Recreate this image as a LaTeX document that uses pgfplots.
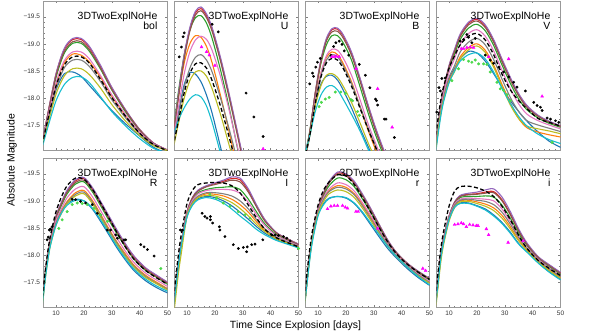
\documentclass[border=0pt]{standalone}
\usepackage{fontspec}
\setmainfont{Liberation Sans}
\usepackage{pgfplots}
\usepackage{pgfplotstable}
\usepgfplotslibrary{groupplots}
\pgfplotsset{compat=1.18}

\definecolor{tblue}{HTML}{1F77B4}
\definecolor{torange}{HTML}{FF7F0E}
\definecolor{tgreen}{HTML}{2CA02C}
\definecolor{tred}{HTML}{D62728}
\definecolor{tpurple}{HTML}{9467BD}
\definecolor{tbrown}{HTML}{8C564B}
\definecolor{tpink}{HTML}{E377C2}
\definecolor{tgray}{HTML}{7F7F7F}
\definecolor{tolive}{HTML}{BCBD22}
\definecolor{tcyan}{HTML}{17BECF}
\definecolor{obsgreen}{HTML}{4CD84C}
\definecolor{obsmag}{HTML}{FF00FF}

% model light curves, one table per band: columns are the models
\pgfplotstableread{
t  pu     re     br     gr     pk     og     da     gy     ol     bl     cy
5  -17.15 -17.15 -17.15 -17.14 -17.13 -17.13 -17.13 -17.12 -17.11 -17.10 -17.08
7  -17.70 -17.69 -17.68 -17.67 -17.62 -17.60 -17.59 -17.57 -17.51 -17.55 -17.45
10 -18.45 -18.44 -18.41 -18.38 -18.28 -18.25 -18.22 -18.17 -18.07 -18.15 -17.95
13 -18.92 -18.90 -18.86 -18.83 -18.69 -18.65 -18.61 -18.56 -18.41 -18.45 -18.25
16 -19.10 -19.08 -19.04 -19.01 -18.85 -18.81 -18.76 -18.70 -18.54 -18.48 -18.38
19 -19.10 -19.08 -19.04 -19.01 -18.85 -18.79 -18.76 -18.70 -18.54 -18.40 -18.39
22 -18.95 -18.93 -18.89 -18.86 -18.72 -18.66 -18.64 -18.58 -18.43 -18.23 -18.28
26 -18.60 -18.58 -18.55 -18.53 -18.41 -18.38 -18.34 -18.30 -18.18 -18.00 -18.02
30 -18.20 -18.19 -18.16 -18.15 -18.06 -18.03 -18.01 -17.97 -17.88 -17.77 -17.75
35 -17.78 -17.77 -17.76 -17.74 -17.69 -17.67 -17.66 -17.63 -17.57 -17.52 -17.48
40 -17.42 -17.42 -17.41 -17.40 -17.37 -17.36 -17.35 -17.34 -17.31 -17.30 -17.25
45 -17.17 -17.17 -17.16 -17.16 -17.15 -17.15 -17.14 -17.14 -17.12 -17.09 -17.07
50 -17.04 -17.04 -17.04 -17.04 -17.04 -17.03 -17.03 -17.03 -17.03 -16.98 -16.98
}\tabbol

\pgfplotstableread{
t  pu     re     br     gr     pk     og     da     gy     ol     bl     cy
5  -17.30 -17.28 -17.27 -17.35 -17.20 -17.30 -17.10 -17.15 -17.05 -17.20 -17.30
7  -18.10 -18.07 -18.04 -18.15 -17.85 -18.05 -17.60 -17.70 -17.55 -17.75 -17.60
9  -18.80 -18.77 -18.73 -18.80 -18.45 -18.65 -18.10 -18.20 -18.00 -18.25 -17.82
11 -19.30 -19.27 -19.23 -19.25 -18.85 -19.00 -18.45 -18.55 -18.32 -18.47 -17.98
13 -19.60 -19.57 -19.53 -19.48 -19.07 -19.15 -18.63 -18.75 -18.48 -18.44 -18.06
15 -19.68 -19.65 -19.61 -19.52 -19.14 -19.12 -18.65 -18.80 -18.50 -18.30 -18.02
17 -19.55 -19.52 -19.48 -19.38 -19.08 -18.95 -18.55 -18.70 -18.40 -18.05 -17.85
19 -19.30 -19.27 -19.23 -19.10 -18.88 -18.65 -18.32 -18.48 -18.17 -17.72 -17.55
22 -18.75 -18.72 -18.68 -18.52 -18.40 -18.05 -17.85 -18.00 -17.70 -17.10 -16.98
25 -18.10 -18.07 -18.03 -17.85 -17.80 -17.40 -17.30 -17.45 -17.15 -16.50 -16.40
28 -17.40 -17.37 -17.33 -17.10 -17.12 -16.70 -16.70 -16.85 -16.60 -15.90 -15.80
31 -16.70 -16.67 -16.63 -16.40 -16.45 -16.00 -16.10 -16.20 -16.00 -15.30 -15.20
35 -15.90 -15.90 -15.90 -15.60 -15.60 -15.20 -15.30 -15.40 -15.30 -14.50 -14.40
}\tabU

\pgfplotstableread{
t  pu     re     br     gr     pk     og     da     gy     ol     bl     cy
5  -16.80 -16.80 -16.80 -16.82 -16.80 -16.85 -16.85 -16.80 -16.85 -16.90 -16.90
7  -17.35 -17.35 -17.36 -17.38 -17.30 -17.35 -17.30 -17.28 -17.30 -17.35 -17.30
9  -18.10 -18.09 -18.08 -18.08 -17.95 -17.98 -17.90 -17.90 -17.85 -17.88 -17.75
11 -18.70 -18.68 -18.66 -18.63 -18.45 -18.45 -18.38 -18.40 -18.22 -18.25 -18.05
13 -19.10 -19.08 -19.05 -18.98 -18.78 -18.75 -18.65 -18.70 -18.42 -18.40 -18.20
15 -19.28 -19.26 -19.22 -19.15 -18.90 -18.85 -18.73 -18.80 -18.45 -18.42 -18.23
17 -19.29 -19.27 -19.23 -19.15 -18.88 -18.80 -18.70 -18.76 -18.38 -18.33 -18.15
19 -19.17 -19.15 -19.11 -19.02 -18.74 -18.64 -18.55 -18.60 -18.22 -18.15 -17.98
22 -18.85 -18.83 -18.79 -18.70 -18.42 -18.30 -18.22 -18.27 -17.92 -17.82 -17.70
25 -18.38 -18.36 -18.32 -18.22 -17.98 -17.85 -17.82 -17.86 -17.55 -17.45 -17.40
28 -17.87 -17.85 -17.81 -17.72 -17.52 -17.40 -17.42 -17.44 -17.17 -17.10 -17.05
31 -17.40 -17.38 -17.34 -17.27 -17.12 -17.00 -17.05 -17.06 -16.82 -16.75 -16.70
35 -16.85 -16.83 -16.80 -16.75 -16.60 -16.50 -16.55 -16.55 -16.35 -16.30 -16.25
}\tabB

\pgfplotstableread{
t  pu     re     br     gr     pk     og     da     gy     ol     bl     cy
5  -17.00 -17.00 -17.00 -16.99 -16.98 -16.95 -17.20 -16.96 -16.95 -17.00 -16.90
6  -17.45 -17.45 -17.44 -17.43 -17.41 -17.36 -17.60 -17.38 -17.35 -17.40 -17.30
7  -17.85 -17.84 -17.83 -17.82 -17.79 -17.71 -17.95 -17.74 -17.70 -17.75 -17.65
8  -18.15 -18.14 -18.13 -18.11 -18.07 -17.96 -18.20 -18.00 -17.95 -18.00 -17.92
10 -18.60 -18.59 -18.57 -18.53 -18.47 -18.32 -18.55 -18.38 -18.29 -18.35 -18.28
12 -18.90 -18.88 -18.86 -18.81 -18.73 -18.52 -18.78 -18.60 -18.49 -18.55 -18.50
14 -19.18 -19.16 -19.13 -19.08 -18.99 -18.76 -18.98 -18.85 -18.72 -18.72 -18.68
17 -19.40 -19.38 -19.35 -19.29 -19.19 -18.93 -19.14 -19.03 -18.89 -18.86 -18.80
20 -19.47 -19.45 -19.42 -19.36 -19.26 -19.00 -19.19 -19.10 -18.96 -18.83 -18.83
23 -19.35 -19.33 -19.30 -19.24 -19.14 -18.88 -19.07 -18.98 -18.84 -18.68 -18.72
26 -19.08 -19.06 -19.03 -18.97 -18.87 -18.61 -18.80 -18.71 -18.57 -18.45 -18.48
29 -18.72 -18.70 -18.67 -18.61 -18.51 -18.25 -18.44 -18.35 -18.21 -18.20 -18.18
32 -18.38 -18.36 -18.33 -18.27 -18.17 -17.91 -18.15 -18.01 -17.87 -17.95 -17.90
35 -18.08 -18.06 -18.04 -17.98 -17.89 -17.62 -17.95 -17.75 -17.62 -17.75 -17.66
38 -17.86 -17.85 -17.82 -17.78 -17.70 -17.45 -17.80 -17.58 -17.48 -17.57 -17.48
42 -17.68 -17.67 -17.66 -17.63 -17.58 -17.37 -17.62 -17.50 -17.43 -17.37 -17.33
46 -17.57 -17.56 -17.55 -17.53 -17.50 -17.32 -17.55 -17.44 -17.39 -17.20 -17.23
50 -17.49 -17.48 -17.48 -17.46 -17.43 -17.28 -17.48 -17.38 -17.34 -17.09 -17.16
}\tabV

\pgfplotstableread{
t  pu     re     br     gr     pk     og     da     gy     ol     bl     cy
5  -17.05 -17.05 -17.05 -17.05 -17.05 -17.05 -17.10 -17.05 -17.00 -17.05 -17.00
6  -17.60 -17.60 -17.60 -17.59 -17.58 -17.58 -17.65 -17.57 -17.50 -17.58 -17.50
7  -17.98 -17.98 -17.97 -17.96 -17.95 -17.93 -18.05 -17.93 -17.88 -17.95 -17.88
8  -18.30 -18.29 -18.29 -18.28 -18.25 -18.23 -18.36 -18.22 -18.18 -18.25 -18.18
10 -18.72 -18.71 -18.70 -18.68 -18.64 -18.60 -18.80 -18.59 -18.55 -18.62 -18.55
12 -18.98 -18.97 -18.95 -18.92 -18.86 -18.81 -19.08 -18.79 -18.77 -18.82 -18.78
14 -19.20 -19.18 -19.16 -19.13 -19.06 -18.99 -19.28 -18.97 -18.95 -18.95 -18.92
17 -19.39 -19.37 -19.34 -19.31 -19.22 -19.15 -19.42 -19.12 -19.09 -19.03 -19.01
20 -19.43 -19.41 -19.38 -19.35 -19.26 -19.19 -19.40 -19.16 -19.13 -19.00 -19.00
23 -19.25 -19.23 -19.20 -19.17 -19.08 -19.01 -19.22 -18.98 -18.95 -18.85 -18.87
26 -18.99 -18.97 -18.94 -18.91 -18.82 -18.75 -18.96 -18.72 -18.69 -18.62 -18.65
29 -18.72 -18.70 -18.67 -18.64 -18.55 -18.48 -18.68 -18.45 -18.42 -18.37 -18.40
32 -18.45 -18.43 -18.41 -18.38 -18.30 -18.23 -18.40 -18.21 -18.18 -18.12 -18.15
35 -18.20 -18.18 -18.16 -18.14 -18.06 -18.01 -18.14 -17.98 -17.96 -17.90 -17.93
38 -17.98 -17.97 -17.94 -17.92 -17.86 -17.81 -17.92 -17.79 -17.77 -17.71 -17.74
42 -17.77 -17.76 -17.74 -17.72 -17.67 -17.63 -17.72 -17.61 -17.59 -17.53 -17.56
46 -17.63 -17.62 -17.60 -17.59 -17.54 -17.50 -17.58 -17.48 -17.47 -17.40 -17.43
50 -17.50 -17.49 -17.48 -17.46 -17.42 -17.38 -17.46 -17.37 -17.35 -17.30 -17.33
}\tabR

\pgfplotstableread{
t  pu     re     br     gr     pk     og     da     gy     ol     bl     cy
5  -17.00 -17.00 -17.00 -16.99 -16.98 -16.97 -17.10 -16.97 -16.80 -16.96 -16.95
6  -17.45 -17.45 -17.45 -17.44 -17.43 -17.42 -17.60 -17.42 -17.25 -17.41 -17.40
7  -17.90 -17.90 -17.90 -17.89 -17.88 -17.87 -18.05 -17.87 -17.70 -17.86 -17.85
8  -18.25 -18.25 -18.25 -18.24 -18.23 -18.22 -18.40 -18.22 -18.05 -18.21 -18.20
10 -18.80 -18.80 -18.79 -18.77 -18.76 -18.73 -18.95 -18.74 -18.72 -18.71 -18.70
12 -19.07 -19.06 -19.06 -19.03 -19.01 -18.97 -19.20 -18.98 -18.95 -18.94 -18.92
14 -19.20 -19.19 -19.18 -19.15 -19.13 -19.07 -19.30 -19.09 -19.06 -19.04 -19.02
17 -19.28 -19.27 -19.26 -19.21 -19.19 -19.13 -19.33 -19.15 -19.10 -19.08 -19.06
20 -19.33 -19.32 -19.30 -19.24 -19.21 -19.12 -19.34 -19.15 -19.09 -19.06 -19.03
23 -19.38 -19.36 -19.34 -19.25 -19.21 -19.09 -19.33 -19.13 -19.04 -19.00 -18.96
26 -19.44 -19.41 -19.38 -19.26 -19.20 -19.03 -19.28 -19.09 -18.97 -18.91 -18.85
29 -19.42 -19.39 -19.35 -19.21 -19.14 -18.93 -19.15 -19.00 -18.86 -18.79 -18.72
32 -19.22 -19.19 -19.16 -19.03 -18.97 -18.79 -18.92 -18.85 -18.72 -18.66 -18.60
35 -18.92 -18.90 -18.88 -18.79 -18.74 -18.61 -18.68 -18.65 -18.56 -18.52 -18.47
38 -18.65 -18.64 -18.62 -18.57 -18.54 -18.45 -18.47 -18.48 -18.43 -18.40 -18.37
42 -18.42 -18.41 -18.41 -18.38 -18.36 -18.32 -18.32 -18.33 -18.30 -18.29 -18.27
46 -18.30 -18.30 -18.29 -18.27 -18.26 -18.23 -18.23 -18.24 -18.22 -18.21 -18.20
50 -18.20 -18.20 -18.19 -18.18 -18.17 -18.15 -18.15 -18.16 -18.14 -18.14 -18.13
}\tabI

\pgfplotstableread{
t  pu     re     br     gr     pk     og     da     gy     ol     bl     cy
5  -17.00 -17.00 -17.00 -17.00 -17.00 -17.00 -17.10 -17.00 -16.95 -17.00 -16.98
6  -17.50 -17.50 -17.50 -17.50 -17.50 -17.50 -17.65 -17.50 -17.45 -17.50 -17.45
7  -18.00 -18.00 -18.00 -17.99 -17.98 -17.97 -18.10 -17.97 -17.92 -17.95 -17.90
8  -18.35 -18.35 -18.35 -18.34 -18.33 -18.32 -18.45 -18.32 -18.28 -18.30 -18.25
10 -18.85 -18.85 -18.84 -18.83 -18.81 -18.80 -18.92 -18.79 -18.75 -18.75 -18.72
12 -19.15 -19.14 -19.13 -19.10 -19.06 -19.04 -19.20 -19.03 -18.99 -18.95 -18.93
14 -19.36 -19.34 -19.33 -19.28 -19.22 -19.19 -19.35 -19.17 -19.13 -19.05 -19.04
17 -19.53 -19.51 -19.49 -19.42 -19.33 -19.28 -19.48 -19.25 -19.20 -19.08 -19.08
20 -19.50 -19.48 -19.46 -19.39 -19.30 -19.25 -19.46 -19.22 -19.17 -19.05 -19.06
23 -19.36 -19.34 -19.32 -19.26 -19.18 -19.13 -19.30 -19.11 -19.06 -18.95 -18.96
26 -19.12 -19.10 -19.09 -19.03 -18.96 -18.93 -19.05 -18.90 -18.86 -18.77 -18.79
29 -18.85 -18.84 -18.82 -18.78 -18.72 -18.69 -18.78 -18.66 -18.63 -18.55 -18.58
32 -18.56 -18.55 -18.54 -18.50 -18.46 -18.43 -18.50 -18.42 -18.39 -18.33 -18.37
35 -18.28 -18.27 -18.26 -18.24 -18.21 -18.19 -18.24 -18.18 -18.16 -18.12 -18.16
38 -18.06 -18.05 -18.05 -18.03 -18.01 -18.00 -18.03 -17.99 -17.98 -17.95 -17.98
42 -17.85 -17.85 -17.84 -17.83 -17.81 -17.80 -17.83 -17.79 -17.78 -17.75 -17.78
46 -17.70 -17.69 -17.69 -17.67 -17.65 -17.63 -17.68 -17.63 -17.61 -17.58 -17.60
50 -17.57 -17.56 -17.56 -17.54 -17.51 -17.50 -17.55 -17.49 -17.48 -17.44 -17.45
}\tabrr

\pgfplotstableread{
t  pu     re     br     gr     pk     og     da     gy     ol     bl     cy
5  -17.00 -17.00 -17.00 -17.00 -16.99 -16.99 -17.10 -16.99 -16.90 -16.98 -16.98
6  -17.50 -17.50 -17.49 -17.49 -17.48 -17.47 -17.65 -17.47 -17.38 -17.45 -17.45
7  -18.00 -17.99 -17.99 -17.98 -17.96 -17.94 -18.10 -17.95 -17.85 -17.92 -17.92
8  -18.30 -18.29 -18.29 -18.28 -18.26 -18.24 -18.42 -18.25 -18.18 -18.22 -18.22
10 -18.72 -18.71 -18.71 -18.70 -18.69 -18.67 -18.90 -18.68 -18.62 -18.65 -18.65
12 -18.98 -18.97 -18.97 -18.95 -18.94 -18.91 -19.18 -18.92 -18.88 -18.88 -18.88
14 -19.10 -19.09 -19.08 -19.06 -19.03 -19.00 -19.26 -19.01 -18.98 -18.96 -18.95
17 -19.14 -19.12 -19.11 -19.08 -19.05 -19.01 -19.27 -19.03 -18.99 -18.96 -18.95
20 -19.16 -19.13 -19.12 -19.08 -19.04 -18.98 -19.24 -19.01 -18.95 -18.91 -18.90
23 -19.20 -19.16 -19.14 -19.09 -19.03 -18.94 -19.18 -18.99 -18.90 -18.85 -18.83
26 -19.22 -19.17 -19.15 -19.07 -19.00 -18.87 -19.08 -18.93 -18.82 -18.74 -18.72
29 -19.07 -19.02 -19.00 -18.92 -18.85 -18.73 -18.90 -18.79 -18.68 -18.60 -18.58
32 -18.80 -18.76 -18.74 -18.68 -18.62 -18.52 -18.65 -18.57 -18.48 -18.42 -18.40
35 -18.48 -18.45 -18.44 -18.40 -18.35 -18.28 -18.36 -18.32 -18.26 -18.21 -18.20
38 -18.22 -18.20 -18.19 -18.17 -18.14 -18.10 -18.12 -18.12 -18.08 -18.06 -18.05
42 -17.97 -17.96 -17.95 -17.93 -17.92 -17.89 -17.90 -17.90 -17.87 -17.86 -17.85
46 -17.82 -17.81 -17.80 -17.78 -17.76 -17.72 -17.75 -17.74 -17.71 -17.69 -17.68
50 -17.68 -17.67 -17.66 -17.64 -17.62 -17.58 -17.62 -17.60 -17.57 -17.55 -17.54
}\tabii

\pgfplotsset{
  model/.style={smooth, no markers, line width=1.1pt},
  obsk/.style={only marks, mark=*, mark size=1.2pt, black},
  obsm/.style={only marks, mark=triangle*, mark size=1.7pt, obsmag},
  obsg/.style={only marks, mark=*, mark size=1.3pt, obsgreen},
}

\newcommand{\modelcurves}[1]{%
  \addplot[model, tblue] table[x=t, y=bl] {#1};
  \addplot[model, torange] table[x=t, y=og] {#1};
  \addplot[model, tgreen] table[x=t, y=gr] {#1};
  \addplot[model, tred] table[x=t, y=re] {#1};
  \addplot[model, tpurple] table[x=t, y=pu] {#1};
  \addplot[model, tbrown] table[x=t, y=br] {#1};
  \addplot[model, tpink] table[x=t, y=pk] {#1};
  \addplot[model, tgray] table[x=t, y=gy] {#1};
  \addplot[model, tolive] table[x=t, y=ol] {#1};
  \addplot[model, tcyan] table[x=t, y=cy] {#1};
  \addplot[model, black, line width=1.3pt, dash pattern=on 4pt off 2.5pt] table[x=t, y=da] {#1};
}
\newcommand{\bandlabel}[1]{%
  \node[anchor=north east, align=right, inner sep=0pt,
        font=\fontsize{10.5}{10.5}\selectfont] at (axis description cs:0.92,0.93) {3DTwoExplNoHe\\#1};
}

\begin{document}
\begin{tikzpicture}
\begin{groupplot}[
  group style={group name=G, group size=4 by 2, horizontal sep=7bp, vertical sep=8bp},
  width=124bp, height=149bp, scale only axis,
  xmin=5.5, xmax=50, ymin=-19.79, ymax=-17.04, y dir=reverse,
  xtick={10,20,30,40,50}, minor x tick num=4,
  ytick={-19.5,-19,-18.5,-18,-17.5}, minor y tick num=4,
  xticklabels={}, yticklabels={},
  tick align=inside, major tick length=2.5bp, minor tick length=1.5bp,
  tick style={gray, line width=0.4pt},
  axis line style={gray!80, line width=0.5pt},
  ticklabel style={font=\fontsize{6.5}{7}\selectfont, text=black!80},
]
% bol
\nextgroupplot[yticklabels={−19.5,−19.0,−18.5,−18.0,−17.5}]
\modelcurves{\tabbol}
\bandlabel{bol}

% U
\nextgroupplot
\modelcurves{\tabU}
\addplot[obsk] coordinates {(5.2,-17.81) (7.2,-18.76) (8.0,-18.94) (8.6,-19.13) (9.0,-19.20)
  (19.0,-19.36) (21.2,-19.22) (31.2,-18.09) (34.0,-17.65) (37.3,-17.29)};
\addplot[obsm] coordinates {(15.2,-18.94) (17.0,-18.85) (18.0,-18.79) (20.0,-18.60) (37.3,-17.06)};
\bandlabel{U}

% B
\nextgroupplot
\modelcurves{\tabB}
\addplot[obsk] coordinates {(5.4,-17.61) (5.4,-17.75) (7.0,-18.26) (8.0,-18.46) (8.4,-18.40)
  (9.2,-18.57) (9.8,-18.66) (10.8,-18.73) (14.6,-18.79) (15.6,-18.95) (16.4,-19.02)
  (17.6,-19.05) (18.6,-18.99) (19.4,-18.87) (21.0,-18.79) (24.8,-18.62) (27.0,-18.42)
  (28.6,-18.19) (30.6,-17.98) (31.0,-17.95) (31.4,-17.87) (33.8,-17.61) (34.4,-17.61)
  (37.4,-17.27)};
\addplot[obsm] coordinates {(15.0,-18.76) (15.8,-18.76) (16.6,-18.77) (17.6,-18.76)
  (23.6,-18.54) (31.4,-18.17) (36.6,-17.46)};
\addplot[obsg] coordinates {(10.4,-17.84) (11.2,-17.92) (12.6,-17.98) (14.0,-18.01)
  (16.2,-18.11) (18.2,-18.11) (19.8,-18.08) (21.8,-17.97) (22.4,-17.95) (24.2,-17.75)
  (24.8,-17.68)};
\bandlabel{B}

% V
\nextgroupplot
\modelcurves{\tabV}
\addplot[obsk] coordinates {(5.6,-17.74) (6.4,-18.19) (6.9,-18.13) (7.4,-18.36) (8.6,-18.37)
  (14.0,-19.05) (15.2,-19.08) (16.4,-19.17) (17.0,-19.12) (18.2,-19.02) (19.4,-19.10)
  (23.0,-18.79) (24.8,-18.70) (26.0,-18.64) (27.8,-18.57) (29.6,-18.48) (31.4,-18.39)
  (33.2,-18.29) (34.4,-18.20) (37.4,-18.13) (40.4,-17.92) (41.6,-17.86) (42.8,-17.83)
  (43.4,-17.77) (45.2,-17.63) (46.4,-17.61) (48.2,-17.58) (49.4,-17.55)};
\addplot[obsm] coordinates {(14.4,-18.91) (15.2,-18.91) (16.4,-18.93) (17.6,-18.94)
  (18.8,-18.93) (24.2,-18.76) (31.4,-18.72) (43.4,-18.03)};
\addplot[obsg] coordinates {(11.0,-18.32) (13.4,-18.54) (15.2,-18.71) (17.0,-18.68)
  (18.2,-18.66) (19.4,-18.70) (20.6,-18.63) (22.4,-18.63) (23.6,-18.62) (24.8,-18.48)
  (27.2,-18.29) (28.4,-18.17) (29.6,-18.14) (30.8,-18.06) (32.0,-17.95) (47.0,-17.18)};
\bandlabel{V}

% R
\nextgroupplot[yticklabels={−19.5,−19.0,−18.5,−18.0,−17.5}, xticklabels={10,20,30,40,50}]
\modelcurves{\tabR}
\addplot[obsk] coordinates {(5.2,-17.85) (5.3,-17.78) (6.8,-18.28) (7.2,-18.33) (7.6,-18.46)
  (8.0,-18.48) (8.6,-18.52) (15.8,-19.03) (17.0,-19.02) (18.8,-18.99) (20.6,-18.96)
  (23.0,-18.93) (24.8,-18.77) (26.0,-18.74) (28.4,-18.46) (29.6,-18.46) (31.4,-18.37)
  (32.0,-18.31) (34.4,-18.28) (35.0,-18.28) (40.4,-18.19) (41.6,-18.15) (42.8,-18.10)
  (45.2,-17.98)};
\addplot[obsg] coordinates {(11.0,-18.49) (12.2,-18.65) (14.0,-18.80) (15.8,-18.93)
  (17.6,-18.96) (19.4,-18.95) (21.2,-18.93) (23.6,-18.86) (26.0,-18.74) (28.4,-18.62)
  (47.6,-17.75)};
\bandlabel{R}

% I
\nextgroupplot[xticklabels={10,20,30,40,50}]
\modelcurves{\tabI}
\addplot[obsk] coordinates {(5.2,-17.89) (5.2,-17.83) (7.6,-18.46) (8.4,-18.46)
  (15.4,-18.77) (16.4,-18.71) (17.2,-18.68) (18.4,-18.71) (18.4,-18.65) (19.2,-18.59)
  (21.6,-18.52) (21.8,-18.46) (23.6,-18.34) (26.6,-18.19) (28.4,-18.12) (30.2,-18.14)
  (31.4,-18.06) (31.6,-18.15) (33.2,-18.19) (34.4,-18.20) (37.2,-18.28) (40.4,-18.37)
  (41.6,-18.37) (42.8,-18.36) (44.6,-18.34) (45.8,-18.31) (47.0,-18.26)};
\addplot[obsg] coordinates {(18.2,-19.12) (20.6,-19.05) (23.0,-18.96) (25.4,-18.90)
  (28.4,-18.80) (30.8,-18.74) (32.6,-18.68) (50.0,-18.12)};
\bandlabel{I}

% r
\nextgroupplot[xticklabels={10,20,30,40,50}]
\modelcurves{\tabrr}
\addplot[obsm] coordinates {(13.4,-18.85) (14.6,-18.90) (15.8,-18.91) (17.0,-18.91)
  (18.8,-18.91) (19.8,-18.88) (20.6,-18.86) (23.6,-18.80) (24.4,-18.80) (31.4,-18.49)
  (47.6,-17.75) (48.6,-17.71)};
\bandlabel{r}

% i
\nextgroupplot[xticklabels={10,20,30,40,50}]
\modelcurves{\tabii}
\addplot[obsm] coordinates {(12.0,-18.56) (13.2,-18.57) (14.4,-18.59) (15.2,-18.57)
  (16.2,-18.52) (17.4,-18.56) (18.6,-18.55) (19.8,-18.54) (20.4,-18.54) (23.4,-18.48)
  (24.2,-18.37) (31.2,-18.23) (36.6,-18.26)};
\bandlabel{i}
\end{groupplot}

\node[rotate=90, font=\fontsize{10.5}{12}\selectfont]
  at ([shift={(-31.5bp,147bp)}]G c1r2.south west) {Absolute Magnitude};
\node[font=\fontsize{10.5}{12}\selectfont]
  at ([shift={(252bp,-19bp)}]G c1r2.south west) {Time Since Explosion [days]};

\pgfresetboundingbox
\path[use as bounding box] (G c1r2.south west) ++(-43.5bp,-27bp) rectangle ++(592bp,334bp);
\end{tikzpicture}
\end{document}
